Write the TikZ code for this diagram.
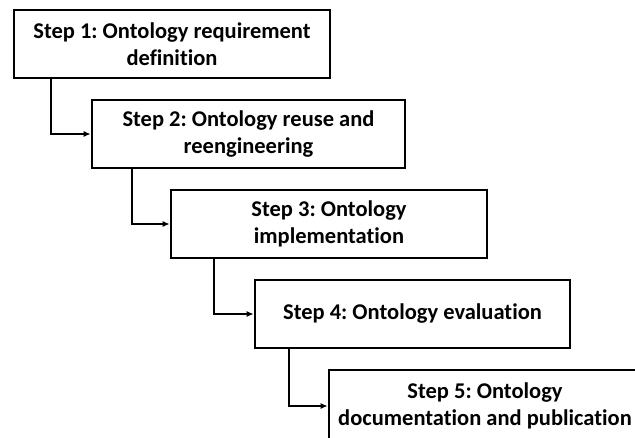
\documentclass[tikz,border=0pt]{standalone}
\usepackage{fontspec}
\setmainfont{Carlito}[Ligatures={NoCommon}]
\usetikzlibrary{arrows.meta}
\frenchspacing
\begin{document}
\begin{tikzpicture}[x=1pt,y=-1pt,
  stepbox/.style={draw=black, line width=2.6pt, fill=white, align=center,
    inner sep=0pt, minimum height=68pt,
    font=\fontsize{22.5}{27}\selectfont\bfseries},
  conn/.style={line width=2.2pt, -{Latex[length=7pt,width=6pt]}}]
\useasboundingbox (0,0) rectangle (635,437);
\clip (0,0) rectangle (635,437);
\fill[white] (0,0) rectangle (635,437);
\node[stepbox, minimum width=316pt] (s1) at (172,44) {Step 1: Ontology requirement\\definition};
\node[stepbox, minimum width=313pt] (s2) at (248.5,134) {Step 2: Ontology reuse and\\reengineering};
\node[stepbox, minimum width=316pt] (s3) at (329,224) {Step 3: Ontology\\implementation};
\node[stepbox, minimum width=315pt] (s4) at (412.5,314) {Step 4: Ontology evaluation};
\node[stepbox, minimum width=312pt, minimum height=72pt] (s5) at (485,406) {Step 5: Ontology\\documentation and publication};
\draw[conn] ([xshift=38pt]s1.south west) |- (s2.west);
\draw[conn] ([xshift=41pt]s2.south west) |- (s3.west);
\draw[conn] ([xshift=44pt]s3.south west) |- (s4.west);
\draw[conn] ([xshift=35pt]s4.south west) |- (s5.west);
\end{tikzpicture}
\end{document}
